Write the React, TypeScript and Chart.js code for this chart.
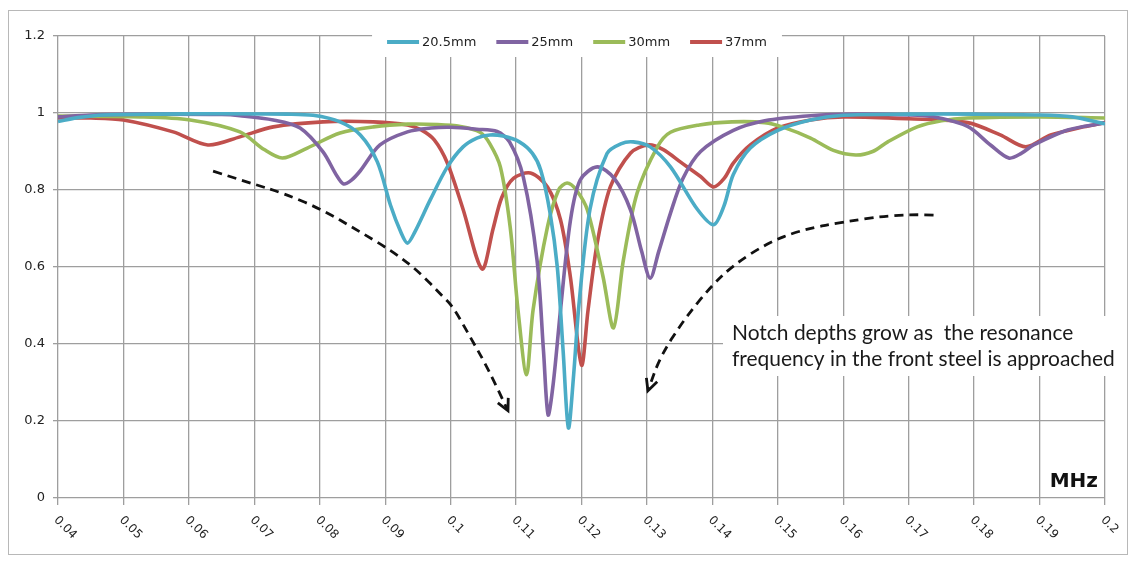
import React, { useEffect, useRef } from "react";
import { Chart, registerables } from "chart.js";

Chart.register(...registerables);

// ---------- data ----------
const X_TICKS = [0.04, 0.05, 0.06, 0.07, 0.08, 0.09, 0.1, 0.11, 0.12, 0.13, 0.14, 0.15, 0.16, 0.17, 0.18, 0.19, 0.2];
const X_TICK_LABELS = ["0.04", "0.05", "0.06", "0.07", "0.08", "0.09", "0.1", "0.11", "0.12", "0.13", "0.14", "0.15", "0.16", "0.17", "0.18", "0.19", "0.2"];
const Y_TICKS = [0, 0.2, 0.4, 0.6, 0.8, 1, 1.2];
const Y_TICK_LABELS = ["0", "0.2", "0.4", "0.6", "0.8", "1", "1.2"];

const SERIES_NAMES = ["20.5mm", "25mm", "30mm", "37mm"];
const SERIES_COLORS = ["#4BACC6", "#8064A2", "#9BBB59", "#C0504D"];

const S_20_5: [number, number][] = [
  [0.04, 0.978], [0.043, 0.988], [0.047, 0.995], [0.055, 0.997], [0.065, 0.998], [0.075, 0.997], [0.079, 0.994],
  [0.0831, 0.977], [0.0862, 0.943], [0.0888, 0.873], [0.0908, 0.761], [0.0924, 0.69], [0.0934, 0.662], [0.0945, 0.69],
  [0.0969, 0.775], [0.0995, 0.86], [0.1019, 0.912], [0.104, 0.935], [0.106, 0.943], [0.108, 0.94], [0.1105, 0.925],
  [0.1125, 0.895], [0.1138, 0.85], [0.1152, 0.74], [0.1163, 0.6], [0.1172, 0.38], [0.118, 0.182], [0.1188, 0.32],
  [0.1196, 0.5], [0.1213, 0.75], [0.1239, 0.895], [0.126, 0.92], [0.1279, 0.925], [0.1305, 0.912], [0.1336, 0.86],
  [0.1377, 0.75], [0.1402, 0.71], [0.1418, 0.76], [0.1432, 0.84], [0.1458, 0.909], [0.15, 0.955], [0.155, 0.982],
  [0.16, 0.994], [0.17, 0.997], [0.18, 0.997], [0.19, 0.995], [0.195, 0.99], [0.2, 0.972],
];

const S_25: [number, number][] = [
  [0.04, 0.99], [0.045, 0.995], [0.055, 0.997], [0.065, 0.996], [0.0678, 0.993], [0.0729, 0.982], [0.077, 0.961],
  [0.0805, 0.899], [0.0825, 0.84], [0.0836, 0.816], [0.0848, 0.825], [0.0862, 0.85], [0.0892, 0.917], [0.0934, 0.951],
  [0.097, 0.961], [0.1, 0.963], [0.104, 0.958], [0.1071, 0.952], [0.109, 0.925], [0.1111, 0.834], [0.1132, 0.618],
  [0.1142, 0.38], [0.1149, 0.216], [0.1157, 0.3], [0.1168, 0.49], [0.1183, 0.72], [0.1198, 0.826], [0.1224, 0.86],
  [0.125, 0.83], [0.1275, 0.748], [0.1292, 0.64], [0.1305, 0.571], [0.1318, 0.64], [0.1336, 0.74], [0.1355, 0.83],
  [0.1382, 0.9], [0.1432, 0.955], [0.148, 0.98], [0.155, 0.993], [0.162, 0.997], [0.17, 0.995], [0.1738, 0.99],
  [0.179, 0.965], [0.1825, 0.917], [0.1853, 0.883], [0.1872, 0.895], [0.1891, 0.917], [0.1943, 0.956], [0.2, 0.974],
];

const S_30: [number, number][] = [
  [0.04, 0.992], [0.0525, 0.99], [0.0602, 0.982], [0.0678, 0.951], [0.0715, 0.905], [0.0743, 0.883], [0.0781, 0.909],
  [0.0831, 0.948], [0.0882, 0.964], [0.0934, 0.971], [0.098, 0.97], [0.1015, 0.965], [0.1045, 0.95], [0.106, 0.92],
  [0.1076, 0.86], [0.1091, 0.704], [0.1103, 0.488], [0.1116, 0.32], [0.1126, 0.488], [0.1148, 0.704], [0.1165, 0.8],
  [0.1178, 0.818], [0.1192, 0.8], [0.1209, 0.748], [0.1233, 0.574], [0.1249, 0.442], [0.1264, 0.618], [0.1285, 0.792],
  [0.1316, 0.912], [0.1336, 0.95], [0.138, 0.969], [0.143, 0.977], [0.148, 0.975], [0.151, 0.962], [0.155, 0.935],
  [0.1585, 0.903], [0.1619, 0.891], [0.1645, 0.9], [0.1668, 0.925], [0.1713, 0.964], [0.175, 0.98], [0.179, 0.987],
  [0.19, 0.99], [0.2, 0.987],
];

const S_37: [number, number][] = [
  [0.04, 0.987], [0.045, 0.987], [0.05, 0.982], [0.0576, 0.951], [0.0629, 0.917], [0.0678, 0.938], [0.0729, 0.964],
  [0.0805, 0.977], [0.0882, 0.977], [0.0934, 0.969], [0.0955, 0.956], [0.0975, 0.93], [0.0995, 0.87], [0.1019, 0.75],
  [0.1048, 0.595], [0.1065, 0.70], [0.1078, 0.78], [0.1096, 0.83], [0.1122, 0.844], [0.1148, 0.808], [0.1168, 0.722],
  [0.1183, 0.574], [0.12, 0.345], [0.121, 0.488], [0.1224, 0.662], [0.1244, 0.808], [0.1275, 0.896], [0.1302, 0.917],
  [0.1325, 0.905], [0.1351, 0.873], [0.1382, 0.835], [0.1402, 0.808], [0.1418, 0.83], [0.1432, 0.87], [0.1458, 0.917],
  [0.15, 0.961], [0.155, 0.982], [0.16, 0.99], [0.17, 0.985], [0.179, 0.975], [0.184, 0.943], [0.1879, 0.912],
  [0.1917, 0.943], [0.1967, 0.964], [0.2, 0.975],
];

const SERIES_DATA = [S_20_5, S_25, S_30, S_37];

// dashed annotation arrows (in data coordinates: MHz, value)
const ARROW_LEFT: [number, number][] = [
  [0.0637, 0.849], [0.0694, 0.818], [0.0744, 0.792], [0.0805, 0.748], [0.0857, 0.696], [0.0908, 0.644],
  [0.0949, 0.592], [0.0989, 0.522], [0.1004, 0.496], [0.103, 0.418], [0.1056, 0.34], [0.1087, 0.229],
];
const ARROW_RIGHT: [number, number][] = [
  [0.1738, 0.735], [0.1687, 0.738], [0.16, 0.717], [0.1535, 0.696], [0.1484, 0.662], [0.1432, 0.605],
  [0.1397, 0.548], [0.1356, 0.462], [0.132, 0.366], [0.1302, 0.281],
];

const NOTE_LINES = ["Notch depths grow as  the resonance", "frequency in the front steel is approached"];
const X_UNIT = "MHz";

// ---------- drawing helpers ----------
const TICK_FONT = "13px 'DejaVu Sans', Verdana, sans-serif";
const XTICK_FONT = "12px 'DejaVu Sans', Verdana, sans-serif";
const GRID_COLOR = "#9e9e9e";

function drawDashedArrow(ctx: CanvasRenderingContext2D, pts: { x: number; y: number }[]) {
  ctx.save();
  ctx.strokeStyle = "#111";
  ctx.lineWidth = 2.8;
  ctx.setLineDash([9, 6]);
  ctx.lineCap = "butt";
  ctx.beginPath();
  ctx.moveTo(pts[0].x, pts[0].y);
  for (let i = 1; i < pts.length - 1; i++) {
    const mx = (pts[i].x + pts[i + 1].x) / 2;
    const my = (pts[i].y + pts[i + 1].y) / 2;
    ctx.quadraticCurveTo(pts[i].x, pts[i].y, mx, my);
  }
  const end = pts[pts.length - 1];
  ctx.lineTo(end.x, end.y);
  ctx.stroke();
  const prev = pts[pts.length - 2];
  const ang = Math.atan2(end.y - prev.y, end.x - prev.x);
  const L = 12;
  ctx.setLineDash([]);
  ctx.lineWidth = 2.8;
  ctx.lineJoin = "miter";
  ctx.beginPath();
  ctx.moveTo(end.x - L * Math.cos(ang - 0.5), end.y - L * Math.sin(ang - 0.5));
  ctx.lineTo(end.x + Math.cos(ang), end.y + Math.sin(ang));
  ctx.lineTo(end.x - L * Math.cos(ang + 0.5), end.y - L * Math.sin(ang + 0.5));
  ctx.stroke();
  ctx.restore();
}

const overlayPlugin = {
  id: "overlay",
  afterDatasetsDraw(chart: any) {
    const { ctx, scales, chartArea } = chart;
    const xs = scales.x;
    const ys = scales.y;
    const toPx = (p: [number, number]) => ({ x: xs.getPixelForValue(p[0]), y: ys.getPixelForValue(p[1]) });

    drawDashedArrow(ctx, ARROW_LEFT.map(toPx));
    drawDashedArrow(ctx, ARROW_RIGHT.map(toPx));

    ctx.save();
    // legend box
    ctx.font = TICK_FONT;
    const lineLen = 32;
    const gapAfterLine = 3;
    const gapItems = 20;
    const widths = SERIES_NAMES.map((n) => ctx.measureText(n).width);
    const total = widths.reduce((a, w) => a + lineLen + gapAfterLine + w, 0) + gapItems * (SERIES_NAMES.length - 1);
    const cx = 577;
    const ly = 42;
    let lx = cx - total / 2;
    ctx.fillStyle = "#fff";
    ctx.fillRect(lx - 15, chartArea.top - 7, total + 30, 28);
    ctx.textBaseline = "middle";
    ctx.textAlign = "left";
    SERIES_NAMES.forEach((n, i) => {
      ctx.strokeStyle = SERIES_COLORS[i];
      ctx.lineWidth = 4;
      ctx.beginPath();
      ctx.moveTo(lx, ly);
      ctx.lineTo(lx + lineLen, ly);
      ctx.stroke();
      ctx.fillStyle = "#222";
      ctx.fillText(n, lx + lineLen + gapAfterLine, ly + 1);
      lx += lineLen + gapAfterLine + widths[i] + gapItems;
    });

    // note box
    const noteX = 732;
    const b1 = 340;
    const b2 = 366;
    let size = 19;
    ctx.font = `${size}px Lato, 'Open Sans', sans-serif`;
    const w2 = ctx.measureText(NOTE_LINES[1]).width;
    size = (size * 383) / w2;
    ctx.font = `${size}px Lato, 'Open Sans', sans-serif`;
    ctx.fillStyle = "#fff";
    ctx.fillRect(noteX - 9, b1 - 24, chartArea.right - noteX + 16, b2 - b1 + 34);
    ctx.fillStyle = "#1a1a1a";
    ctx.textBaseline = "alphabetic";
    ctx.fillText(NOTE_LINES[0], noteX, b1);
    ctx.fillText(NOTE_LINES[1], noteX, b2);

    // unit label
    ctx.font = "bold 20px 'DejaVu Sans', sans-serif";
    ctx.textAlign = "right";
    ctx.fillStyle = "#111";
    ctx.fillText(X_UNIT, chartArea.right - 7, chartArea.bottom - 11);
    ctx.restore();
  },
  afterDraw(chart: any) {
    const { ctx, scales, chartArea } = chart;
    const xs = scales.x;
    ctx.save();
    ctx.font = XTICK_FONT;
    ctx.fillStyle = "#222";
    ctx.textAlign = "left";
    ctx.textBaseline = "top";
    X_TICKS.forEach((v, i) => {
      const px = xs.getPixelForValue(v);
      ctx.save();
      ctx.translate(px + 2, chartArea.bottom + 16);
      ctx.rotate(Math.PI / 4);
      ctx.fillText(X_TICK_LABELS[i], 0, 0);
      ctx.restore();
    });
    // outer frame
    ctx.strokeStyle = "#b8b8b8";
    ctx.lineWidth = 1;
    ctx.strokeRect(8.5, 10.5, 1119, 544);
    ctx.restore();
  },
};

export default function App() {
  const canvasRef = useRef<HTMLCanvasElement | null>(null);

  useEffect(() => {
    const canvas = canvasRef.current;
    if (!canvas) return;
    const chart = new Chart(canvas, {
      type: "line",
      data: {
        datasets: SERIES_NAMES.map((name, i) => ({
          label: name,
          data: SERIES_DATA[i].map(([x, y]) => ({ x, y })),
          borderColor: SERIES_COLORS[i],
          backgroundColor: SERIES_COLORS[i],
          borderWidth: 3.6,
          pointRadius: 0,
          tension: 0.3,
          fill: false,
        })),
      },
      options: {
        responsive: false,
        animation: false,
        devicePixelRatio: 1,
        layout: { padding: { top: 36, right: 33, left: 0, bottom: 0 } },
        plugins: { legend: { display: false }, tooltip: { enabled: false } },
        scales: {
          x: {
            type: "linear",
            min: 0.04,
            max: 0.2,
            afterBuildTicks: (s: any) => {
              s.ticks = X_TICKS.map((v) => ({ value: v }));
            },
            afterFit: (s: any) => {
              s.height = 71;
            },
            ticks: { display: false },
            grid: { color: GRID_COLOR, lineWidth: 1.3, tickLength: 7, drawTicks: true },
            border: { display: false },
          },
          y: {
            type: "linear",
            min: 0,
            max: 1.2,
            afterBuildTicks: (s: any) => {
              s.ticks = Y_TICKS.map((v) => ({ value: v }));
            },
            afterFit: (s: any) => {
              s.width = 58;
            },
            ticks: {
              callback: (_v: any, i: number) => Y_TICK_LABELS[i],
              font: { family: "'DejaVu Sans', Verdana, sans-serif", size: 13 },
              color: "#222",
              padding: 8,
            },
            grid: { color: GRID_COLOR, lineWidth: 1.3, tickLength: 5, drawTicks: true },
            border: { display: false },
          },
        },
      },
      plugins: [overlayPlugin],
    });
    return () => chart.destroy();
  }, []);

  return (
    <div style={{ position: "absolute", left: 0, top: 0, width: 1138, height: 569, background: "#fff" }}>
      <canvas ref={canvasRef} width={1138} height={569} style={{ display: "block" }} />
    </div>
  );
}
